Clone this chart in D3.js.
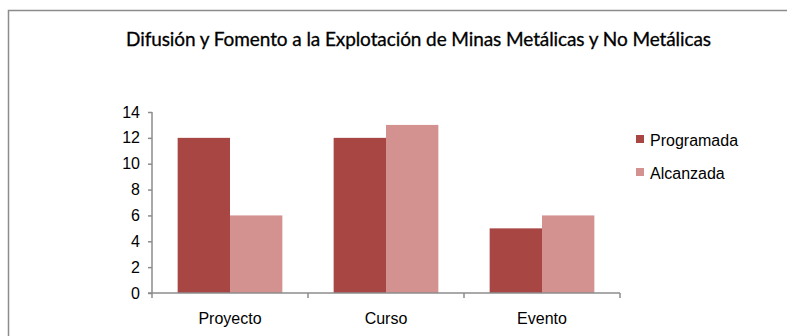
<!DOCTYPE html>
<html><head><meta charset="utf-8">
<script src="https://cdn.jsdelivr.net/npm/d3@7"></script>
<style>body{margin:0;background:#fff}svg{display:block}</style>
</head><body>
<svg id="c" width="787" height="336"></svg>
<script>
const categories = ["Proyecto", "Curso", "Evento"];
const seriesNames = ["Programada", "Alcanzada"];
const programada = [12, 12, 5];
const alcanzada = [6, 13, 6];
const yTicks = [0, 2, 4, 6, 8, 10, 12, 14];
const title = "Difusión y Fomento a la Explotación de Minas Metálicas y No Metálicas";
const colors = ["#A84644", "#D39190"];
const FONT = "'Liberation Sans', Arial, sans-serif";

const svg = d3.select("#c");
svg.append("path").attr("d", "M8.5,340 L8.5,10.5 L790,10.5").attr("fill","none").attr("stroke","#8c8c8c").attr("stroke-width",1.5);

svg.append("text").attr("x", 126).attr("y", 46)
  .attr("font-family","Lato, 'Open Sans', sans-serif").attr("font-size",19).attr("fill","#000")
  .attr("stroke","#000").attr("stroke-width",0.3)
  .attr("textLength",585).attr("lengthAdjust","spacing")
  .text(title);

const x0 = d3.scaleBand().domain(categories).range([152, 620]).paddingInner(0).paddingOuter(0);
const x1 = d3.scaleBand().domain(seriesNames).range([0, x0.bandwidth()]).paddingOuter(0.49).paddingInner(0);
const y = d3.scaleLinear().domain([0, 14]).range([293, 112]);

const data = categories.map((c,i)=>({cat:c, vals:[programada[i], alcanzada[i]]}));
const g = svg.append("g");
data.forEach(d=>{
  d.vals.forEach((v,j)=>{
    g.append("rect").attr("x", x0(d.cat)+x1(seriesNames[j])).attr("y", y(v))
      .attr("width", x1.bandwidth()).attr("height", y(0)-y(v)).attr("fill", colors[j]);
  });
});

const yAxis = d3.axisLeft(y).tickValues(yTicks).tickSize(4).tickPadding(8).tickFormat(d3.format("d"));
const ya = svg.append("g").attr("transform","translate(152,0)").call(yAxis);
ya.select(".domain").attr("stroke","#8c8c8c").attr("stroke-width",1.5).attr("d","M0,112V293");
ya.selectAll(".tick line").attr("stroke","#8c8c8c").attr("stroke-width",1.5);
ya.selectAll("text").attr("font-family",FONT).attr("font-size",16).attr("fill","#000");

const xa = svg.append("g").attr("transform","translate(0,293)");
xa.append("line").attr("x1",148).attr("x2",620).attr("stroke","#8c8c8c").attr("stroke-width",1.5);
const bounds = categories.map(c=>x0(c)).concat([x0(categories[categories.length-1])+x0.bandwidth()]);
bounds.forEach(b=>{
  xa.append("line").attr("x1",b).attr("x2",b).attr("y1",0).attr("y2",5).attr("stroke","#8c8c8c").attr("stroke-width",1.5);
});
categories.forEach(c=>{
  xa.append("text").attr("x", x0(c)+x0.bandwidth()/2).attr("y", 31).attr("text-anchor","middle")
    .attr("font-family",FONT).attr("font-size",16).attr("fill","#000").text(c);
});

const lg = svg.append("g");
seriesNames.forEach((s,i)=>{
  lg.append("rect").attr("x",636).attr("y",135+i*33).attr("width",8).attr("height",8).attr("fill",colors[i]);
  lg.append("text").attr("x",650).attr("y",146+i*33).attr("font-family",FONT)
    .attr("font-size",16).attr("fill","#000").text(s);
});
</script>
</body></html>
